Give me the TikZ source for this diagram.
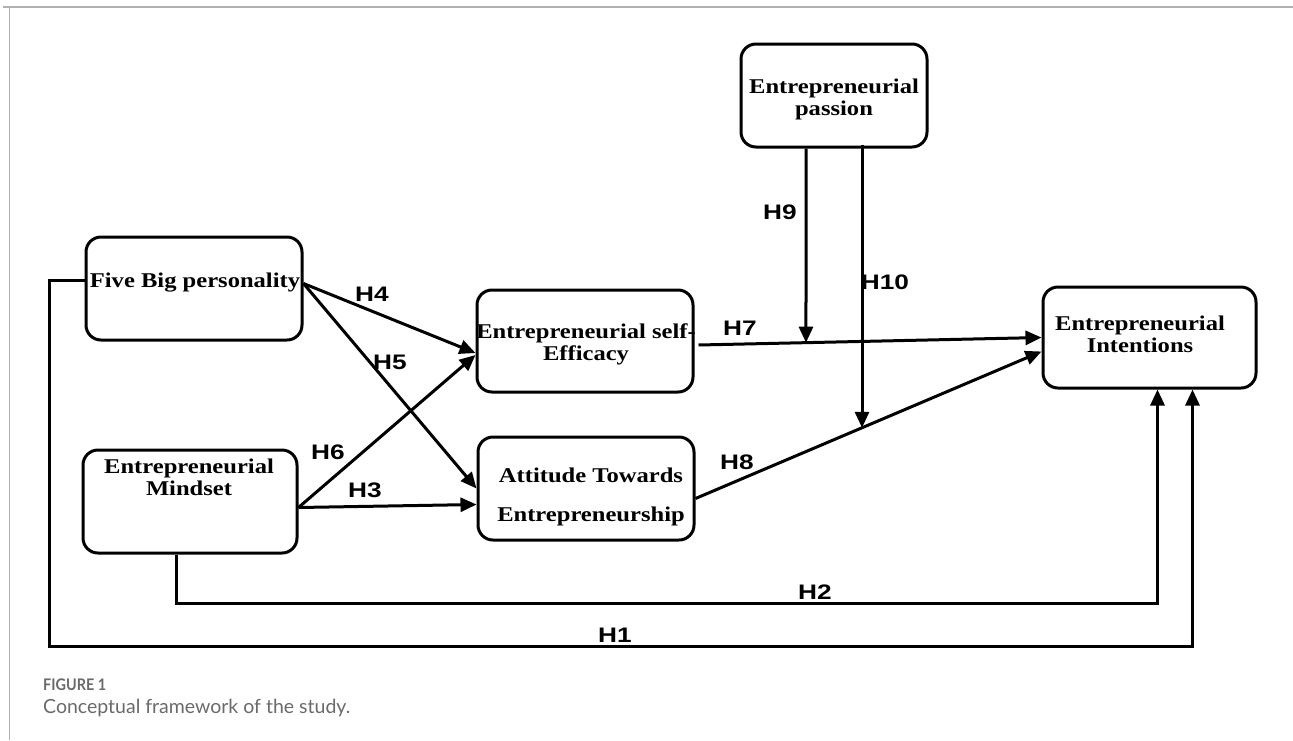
\documentclass[tikz,border=0pt]{standalone}
\usepackage{fontspec}
\setmainfont{Liberation Serif}
\newfontfamily\boxfont[FakeStretch=1.17]{Liberation Serif}
\newfontfamily\hfont[FakeStretch=1.25]{Liberation Sans}
\newfontfamily\capfont{Lato}
\newfontfamily\capfontc[FakeStretch=0.9]{Lato}
\usetikzlibrary{arrows.meta,calc}
\definecolor{framegray}{HTML}{B0B0B0}
\definecolor{capgray}{HTML}{6A6A6A}
\tikzset{
  box/.style={draw, line width=3pt, rounded corners=15pt, inner sep=0pt},
  btext/.style={font=\boxfont\fontsize{21}{22}\selectfont\bfseries, align=center, inner sep=0pt},
  hyp/.style={font=\hfont\fontsize{21}{22}\selectfont\bfseries, inner sep=0pt},
  conn/.style={line width=3pt},
  arr/.style={conn, -{Triangle[length=16pt,width=14pt]}},
}
\begin{document}
\begin{tikzpicture}[x=1pt,y=-1pt]
\useasboundingbox (0,0) rectangle (1293,740);
% frame
\draw[framegray, line width=2pt] (3,6.5) -- (1293,6.5);
\draw[framegray, line width=1.3pt] (9.5,6.5) -- (9.5,740);

% boxes
\node[box, minimum width=216pt, minimum height=103pt] (fb) at (194,288.5) {};
\node[box, minimum width=216pt, minimum height=102pt] (ese) at (585,341) {};
\node[box, minimum width=214pt, minimum height=103pt] (em) at (190,501.5) {};
\node[box, minimum width=216pt, minimum height=103pt] (ata) at (586,488.5) {};
\node[box, minimum width=186pt, minimum height=103pt] (ep) at (834,95.5) {};
\node[box, minimum width=213pt, minimum height=101pt] (ei) at (1149.5,337.5) {};

% box texts
\node[btext] (tfb) at (195,283) {Five Big personality};
\node[btext] (tese) at (586,344) {Entrepreneurial self-\\Efficacy};
\node[btext] (tem) at (189,477) {Entrepreneurial\\Mindset};
\node[btext, align=center] (tata) at (591,497) {Attitude Towards\\[17pt]Entrepreneurship};
\node[btext] (tep) at (834,99) {Entrepreneurial\\passion};
\node[btext] (tei) at (1140,334) {Entrepreneurial\\Intentions};

% coordinates
\coordinate (h7s) at ($(ese.east)+(4,4)$);
\coordinate (h7e) at (ei.west);
\coordinate (h8s) at ($(ata.east)+(0,10)$);
\coordinate (h8e) at ($(ei.west)+(0,14)$);
\coordinate (p9t) at ($(ep.south)+(-28,0)$);
\coordinate (p9b) at ($(p9t)+(0,400)$);
\coordinate (p10t) at ($(ep.south)+(28,-4)$);
\coordinate (p10b) at ($(p10t)+(0,400)$);
\coordinate (x9) at (intersection of h7s--h7e and p9t--p9b);
\coordinate (x10) at (intersection of h8s--h8e and p10t--p10b);
\coordinate (h2s) at ($(em.south)+(-14,0)$);
\coordinate (h2c) at (0,603);
\coordinate (h2e) at ($(ei.south)+(8,0)$);
\coordinate (h1s) at ($(fb.west)+(0,-8)$);
\coordinate (h1a) at (49,0);
\coordinate (h1c) at (0,646);
\coordinate (h1e) at ($(ei.south)+(43,0)$);

% connectors
\draw[arr] ($(fb.east)+(0,-5)$) -- ($(ese.west)+(0,12)$);
\draw[arr] ($(fb.east)+(0,-5)$) -- (ata.west);
\draw[arr] ($(em.east)+(0,6)$) -- ($(ese.west)+(0,14)$);
\draw[arr] ($(em.east)+(0,6)$) -- ($(ata.west)+(0,16)$);
\draw[arr] (h7s) -- (h7e);
\draw[arr] (h8s) -- (h8e);
\draw[arr] (p9t) -- (x9);
\draw[arr] (p10t) -- (x10);
\draw[arr] (h2s) -- (h2s |- h2c) -- (h2e |- h2c) -- (h2e);
\draw[arr] (h1s) -- (h1a |- h1s) -- (h1a |- h1c) -- (h1e |- h1c) -- (h1e);

% hypothesis labels
\node[hyp] (l4) at (372,294) {H4};
\node[hyp] (l5) at (390,362) {H5};
\node[hyp] (l6) at (328,452) {H6};
\node[hyp] (l3) at (365,490) {H3};
\node[hyp] (l7) at (740,328) {H7};
\node[hyp] (l8) at (737,462) {H8};
\node[hyp] (l9) at (780,212) {H9};
\node[hyp] (l10) at (885,282) {H10};
\node[hyp] (l2) at (815,592) {H2};
\node[hyp] (l1) at (615,635) {H1};

% caption
\node[anchor=base west, inner sep=0pt, text=capgray, font=\capfontc\fontsize{16}{18}\selectfont\bfseries] (cap1) at (43,690) {FIGURE 1};
\node[anchor=base west, inner sep=0pt, text=capgray, font=\capfont\fontsize{19.5}{22}\selectfont] (cap2) at (43,713) {Conceptual framework of the study.};
\end{tikzpicture}
\end{document}
